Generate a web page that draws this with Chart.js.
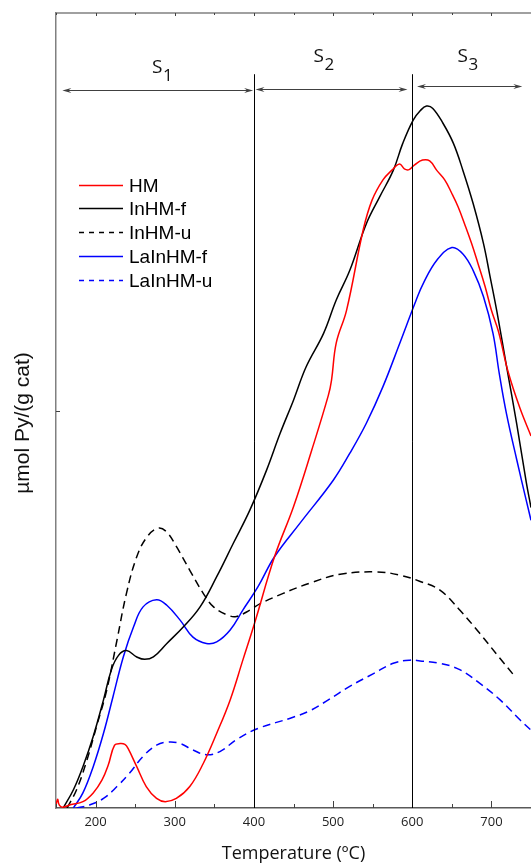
<!DOCTYPE html>
<html>
<head>
<meta charset="utf-8">
<script src="https://cdn.jsdelivr.net/npm/chart.js@4.4.0/dist/chart.umd.min.js"></script>
<style>
  html, body { margin: 0; padding: 0; background: #fff; overflow: hidden; }
  #wrap { width: 531px; height: 865px; }
</style>
</head>
<body>
<div id="wrap"><canvas id="canvas" width="531" height="865"></canvas></div>
<script>
// x ticks (ºC)
var xTicks = [200, 300, 400, 500, 600, 700];
var xMinor = [150, 250, 350, 450, 550, 650, 750];

// HM
var hmTemp = [150, 152, 154, 158, 168, 184, 197, 208, 216, 224, 231, 237, 241, 252, 264, 277, 288, 302, 319, 336, 353, 370, 386, 401, 426, 450, 473, 494, 498, 504, 517, 538, 549, 563, 574, 584, 590, 596, 603, 613, 622, 631, 641, 650, 658, 666, 675, 683, 692, 700, 709, 721, 736, 750];
var hmVal  = [0.3, 1.1, 0.4, 0.1, 0.4, 0.8, 1.9, 3.5, 5.4, 7.9, 8.1, 8.0, 7.5, 5.2, 2.7, 1.2, 0.8, 1.2, 2.7, 5.6, 9.4, 13.6, 18.6, 23.3, 31.6, 37.9, 45.0, 51.9, 53.8, 58.5, 62.6, 72.7, 76.4, 79.0, 80.2, 81.0, 80.4, 80.3, 80.9, 81.5, 81.4, 80.2, 79.0, 77.3, 75.6, 73.5, 71.0, 68.5, 65.6, 62.6, 59.9, 54.9, 50.3, 46.8];

// InHM-f
var inhmfTemp = [159, 172, 184, 197, 210, 220, 229, 239, 252, 262, 273, 290, 311, 332, 353, 374, 395, 416, 433, 450, 466, 488, 504, 521, 542, 559, 576, 588, 601, 610, 618, 626, 639, 652, 664, 677, 690, 698, 707, 719, 732, 744, 750];
var inhmfVal  = [0, 2.3, 5.2, 9.0, 13.6, 17.4, 19.2, 19.8, 19.0, 18.7, 19.0, 20.7, 22.8, 25.3, 29.1, 33.3, 37.5, 42.5, 47.1, 51.3, 55.5, 59.7, 63.9, 67.6, 73.5, 76.9, 80.2, 83.6, 86.5, 87.7, 88.3, 88.0, 86.1, 83.6, 80.2, 76.0, 71.0, 67.0, 62.4, 55.6, 48.3, 41.0, 37.8];

// InHM-u
var inhmuTemp = [164, 176, 189, 201, 214, 227, 239, 252, 265, 279, 290, 302, 319, 336, 349, 366, 378, 395, 408, 437, 471, 509, 555, 584, 610, 635, 660, 685, 711, 730];
var inhmuVal  = [0, 2.3, 6.0, 10.2, 14.8, 21.1, 27.0, 31.6, 34.1, 35.2, 34.7, 32.9, 29.9, 27.0, 25.3, 24.3, 24.1, 24.9, 25.7, 27.0, 28.3, 29.4, 29.7, 29.3, 28.5, 27.4, 24.9, 22.0, 18.8, 16.5];

// LaInHM-f
var lainhmfTemp = [172, 184, 197, 210, 222, 235, 248, 260, 277, 290, 307, 323, 340, 353, 370, 386, 405, 426, 458, 500, 521, 542, 563, 584, 605, 614, 631, 650, 664, 677, 690, 702, 710, 719, 732, 744, 750];
var lainhmfVal  = [0, 1.9, 5.2, 9.4, 14.0, 19.0, 22.8, 25.3, 26.2, 25.5, 23.6, 21.5, 20.7, 20.9, 22.4, 24.9, 27.8, 31.6, 35.8, 41.2, 44.6, 48.4, 53.0, 58.4, 63.9, 66.0, 68.9, 70.5, 69.7, 67.6, 64.3, 59.7, 54.6, 49.6, 43.8, 38.7, 36.2];

// LaInHM-u
var lainhmuTemp = [176, 193, 210, 227, 243, 260, 277, 292, 307, 323, 340, 357, 378, 405, 446, 470, 494, 521, 551, 576, 597, 610, 635, 660, 685, 711, 736, 750];
var lainhmuVal  = [0, 0.4, 1.2, 2.7, 4.4, 6.5, 7.9, 8.3, 8.1, 7.3, 6.7, 7.1, 8.6, 10.0, 11.3, 12.2, 13.6, 15.3, 16.9, 18.2, 18.6, 18.5, 18.2, 17.4, 15.7, 13.6, 11.1, 9.8];

// regions S1, S2, S3
var regionLines = [400, 600];
var regionArrows = [[158, 399], [402, 594], [606, 739]];
var regionArrowY = [90.3, 90.5, 90.8];
var regionLabelT = [284, 488, 670];
var regionLabelY = [92.5, 93.8, 93.8];
var regionSub = ['1', '2', '3'];

function pts(t, v) {
    return t.map(function (x, i) { return { x: x, y: v[i] }; });
}

function series(label, t, v, color, dash) {
    return {
        label: label,
        data: pts(t, v),
        borderColor: color,
        borderWidth: 1.5,
        borderDash: dash,
        pointRadius: 0,
        fill: false,
        tension: 0.4
    };
}

var labelFont = '"Open Sans", sans-serif';
var arialFont = '"Liberation Sans", Arial, sans-serif';

function arrowHead(ctx, xt, yt, dir) {
    ctx.beginPath();
    ctx.moveTo(xt, yt);
    ctx.lineTo(xt - dir * 9, yt - 2.5);
    ctx.lineTo(xt - dir * 6, yt);
    ctx.lineTo(xt - dir * 9, yt + 2.5);
    ctx.closePath();
    ctx.fill();
}

var overlay = {
    id: 'overlay',
    afterDatasetsDraw: function (chart) {
        var ctx = chart.ctx, a = chart.chartArea;
        var x = chart.scales.x, y = chart.scales.y;
        ctx.save();

        // top frame
        ctx.strokeStyle = '#808080';
        ctx.lineWidth = 1.5;
        ctx.beginPath();
        ctx.moveTo(a.left, a.top);
        ctx.lineTo(a.right + 2, a.top);
        ctx.stroke();

        // inner ticks
        ctx.strokeStyle = '#404040';
        ctx.lineWidth = 1;
        xTicks.forEach(function (t) {
            var px = Math.round(x.getPixelForValue(t)) + 0.5;
            ctx.beginPath();
            ctx.moveTo(px, a.bottom); ctx.lineTo(px, a.bottom - 7);
            ctx.moveTo(px, a.top); ctx.lineTo(px, a.top + 3);
            ctx.stroke();
        });
        xMinor.forEach(function (t) {
            var px = Math.round(x.getPixelForValue(t)) + 0.5;
            ctx.beginPath();
            ctx.moveTo(px, a.bottom); ctx.lineTo(px, a.bottom - 4);
            ctx.moveTo(px, a.top); ctx.lineTo(px, a.top + 2);
            ctx.stroke();
        });
        var py = Math.round(y.getPixelForValue(50)) + 0.5;
        ctx.beginPath();
        ctx.moveTo(a.left, py); ctx.lineTo(a.left + 4, py);
        ctx.stroke();

        // region boundaries
        ctx.strokeStyle = '#000';
        ctx.lineWidth = 1;
        regionLines.forEach(function (t) {
            var px = Math.round(x.getPixelForValue(t)) + 0.5;
            ctx.beginPath();
            ctx.moveTo(px, y.getPixelForValue(92.3));
            ctx.lineTo(px, a.bottom);
            ctx.stroke();
        });

        // arrows
        ctx.strokeStyle = '#404040';
        ctx.fillStyle = '#404040';
        regionArrows.forEach(function (r, i) {
            var x0 = x.getPixelForValue(r[0]), x1 = x.getPixelForValue(r[1]);
            var yy = Math.round(y.getPixelForValue(regionArrowY[i])) + 0.5;
            ctx.beginPath();
            ctx.moveTo(x0 + 3, yy); ctx.lineTo(x1 - 3, yy);
            ctx.stroke();
            arrowHead(ctx, x0, yy, -1);
            arrowHead(ctx, x1, yy, 1);
        });

        // labels S1..S3
        ctx.fillStyle = '#111';
        ctx.textBaseline = 'alphabetic';
        ctx.textAlign = 'left';
        regionLabelT.forEach(function (t, i) {
            var cx = x.getPixelForValue(t), by = y.getPixelForValue(regionLabelY[i]);
            ctx.font = '19px ' + labelFont;
            var w1 = ctx.measureText('S').width;
            ctx.font = '17px ' + labelFont;
            var w2 = ctx.measureText(regionSub[i]).width;
            var x0 = cx - (w1 + w2) / 2;
            ctx.font = '19px ' + labelFont;
            ctx.fillText('S', x0, by);
            ctx.font = '17px ' + labelFont;
            ctx.fillText(regionSub[i], x0 + w1 + 0.5, by + 8);
        });

        // y title
        ctx.save();
        ctx.translate(23, 423);
        ctx.rotate(-Math.PI / 2);
        ctx.font = '21px ' + arialFont;
        ctx.fillStyle = '#111';
        ctx.textAlign = 'center';
        ctx.textBaseline = 'middle';
        ctx.fillText('µmol Py/(g cat)', 0, 0);
        ctx.restore();

        // legend
        ctx.font = '19px ' + arialFont;
        ctx.textBaseline = 'middle';
        ctx.textAlign = 'left';
        chart.data.datasets.forEach(function (ds, i) {
            var ly = Math.round(184.5 + i * 23.8) + 0.5;
            ctx.strokeStyle = ds.borderColor;
            ctx.lineWidth = 1.5;
            ctx.setLineDash(ds.borderDash.length ? [5, 5] : []);
            ctx.beginPath();
            ctx.moveTo(79, ly); ctx.lineTo(123, ly);
            ctx.stroke();
            ctx.setLineDash([]);
            ctx.fillStyle = '#000';
            ctx.fillText(ds.label, 129, ly + 1);
        });

        ctx.restore();
    }
};

var config = {
    type: 'line',
    data: {
        datasets: [
            series('HM', hmTemp, hmVal, '#ff0000', []),
            series('InHM-f', inhmfTemp, inhmfVal, '#000000', []),
            series('InHM-u', inhmuTemp, inhmuVal, '#000000', [8, 5]),
            series('LaInHM-f', lainhmfTemp, lainhmfVal, '#0000ff', []),
            series('LaInHM-u', lainhmuTemp, lainhmuVal, '#0000ff', [8, 5])
        ]
    },
    options: {
        responsive: false,
        animation: false,
        events: [],
        layout: { padding: { top: 13, left: 0, right: 0, bottom: 0 } },
        plugins: { legend: { display: false }, tooltip: { enabled: false } },
        scales: {
            x: {
                type: 'linear',
                min: 150,
                max: 750,
                afterBuildTicks: function (s) { s.ticks = xTicks.map(function (v) { return { value: v }; }); },
                afterFit: function (s) { s.height = 57; },
                grid: { drawOnChartArea: false, drawTicks: false },
                border: { color: '#595959', width: 1.5 },
                ticks: { padding: 6, color: '#222', maxRotation: 0, font: { family: labelFont, size: 13 } },
                title: {
                    display: true,
                    text: 'Temperature (ºC)',
                    color: '#111',
                    font: { family: labelFont, size: 18 },
                    padding: { top: 0, bottom: 0 }
                }
            },
            y: {
                min: 0,
                max: 100,
                afterBuildTicks: function (s) { s.ticks = [{ value: 50 }]; },
                afterFit: function (s) { s.width = 56; },
                grid: { drawOnChartArea: false, drawTicks: false },
                border: { color: '#808080', width: 1.5 },
                ticks: { display: false }
            }
        }
    },
    plugins: [overlay]
};

window.myChart = new Chart(document.getElementById('canvas'), config);
</script>
</body>
</html>
